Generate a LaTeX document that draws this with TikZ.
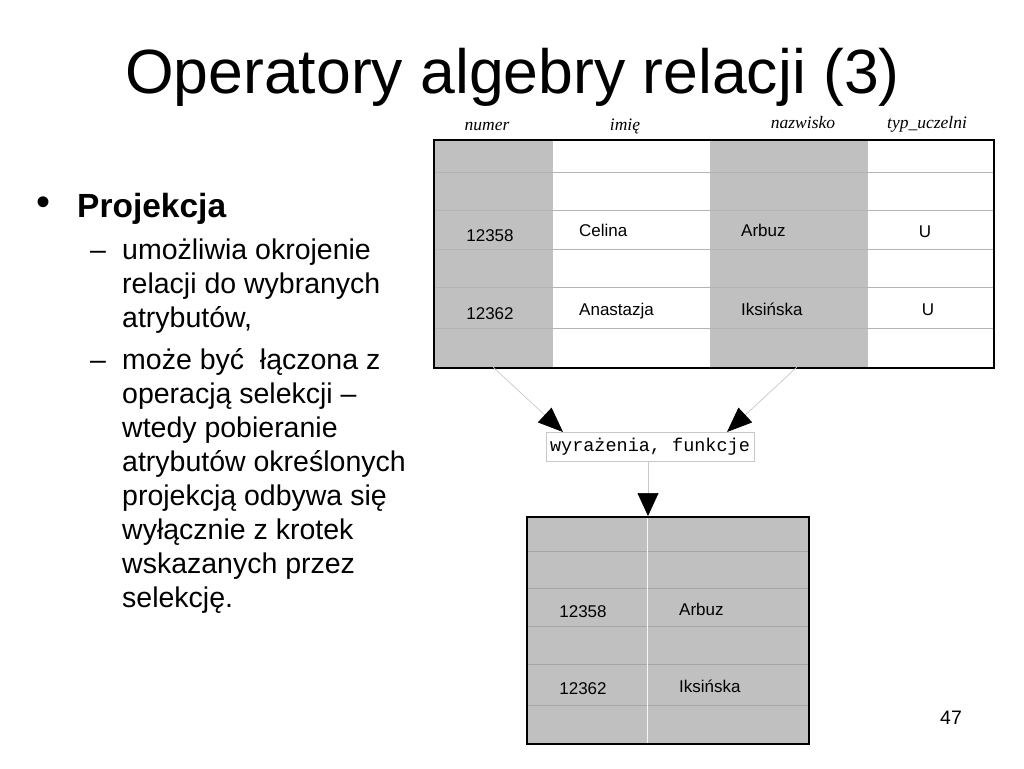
\documentclass[tikz,border=0pt]{standalone}
\usepackage{fontspec}
\setmainfont{Liberation Sans}
\newfontfamily\hdrfont{Liberation Serif}
\newfontfamily\exprfont{Liberation Mono}
\usepackage{tikz}
\usetikzlibrary{arrows.meta}
\usetikzlibrary{positioning}

\definecolor{cellgray}{HTML}{C0C0C0}
\definecolor{rulegray}{HTML}{B4B4B4}
\definecolor{linkgray}{HTML}{C8C8C8}

\begin{document}
\begin{tikzpicture}[x=1pt,y=-1pt,
  frame/.style={draw=black,line width=1.5pt},
  rowline/.style={rulegray,line width=0.8pt},
  hdr/.style={font=\hdrfont\itshape\fontsize{17.5}{20}\selectfont,anchor=base,inner sep=0pt},
  cell/.style={font=\fontsize{17}{20}\selectfont,anchor=base west,inner sep=0pt},
  item/.style={font=\fontsize{28.5}{34}\selectfont,anchor=base west,inner sep=0pt},
  link/.style={linkgray,line width=0.7pt,-{Triangle[length=25pt,width=20pt,color=black]}}]
  \useasboundingbox (0,0) rectangle (1024,768);
  \fill[white] (0,0) rectangle (1024,768);

  % title and bullet text
  \node[anchor=base west,inner sep=0pt,font=\fontsize{62.5}{70}\selectfont] (title) at (125,93) {Operatory algebry relacji (3)};
  \node[inner sep=0pt,font=\fontsize{40}{40}\selectfont] (bullet) at (44,206) {•};
  \node[anchor=base west,inner sep=0pt,font=\bfseries\fontsize{33.5}{40}\selectfont] (head) at (77,217.5) {Projekcja};
  \node[item] (dashA) at (90,259.5) {–};
  \foreach \txt [count=\i] in {{umożliwia okrojenie},{relacji do wybranych},{atrybutów,}}
    \node[item] (lineA-\i) at (122,225.5+34*\i) {\txt};
  \node[item] (dashB) at (90,369) {–};
  \foreach \txt [count=\i] in {{może być\ \ łączona z},{operacją selekcji –},{wtedy pobieranie},
      {atrybutów określonych},{projekcją odbywa się},{wyłącznie z krotek},
      {wskazanych przez},{selekcję.}}
    \node[item] (lineB-\i) at (122,335+34*\i) {\txt};

  % source relation
  \fill[cellgray] (433,139) rectangle (553,367);
  \fill[cellgray] (710,139) rectangle (868,367);
  \foreach \y in {172,210,249,287,328}
    \draw[rowline] (433,\y) -- (993,\y);
  \node[frame,anchor=north west,minimum width=560pt,minimum height=228pt,inner sep=0pt] (source) at (433,139) {};
  \node[hdr] (hNumer) at (487,130) {numer};
  \node[hdr] (hImie) at (625,130) {imię};
  \node[hdr] (hNazwisko) at (803,128.5) {nazwisko};
  \node[hdr] (hTyp) at (927,128.5) {typ\_uczelni};
  \node[cell,anchor=base] (sNum1) at (490,241) {12358};
  \node[cell] (sImie1) at (579,236) {Celina};
  \node[cell] (sNazw1) at (741,236.5) {Arbuz};
  \node[cell,anchor=base] (sTyp1) at (925,237) {U};
  \node[cell,anchor=base] (sNum2) at (490,319) {12362};
  \node[cell] (sImie2) at (579,315) {Anastazja};
  \node[cell] (sNazw2) at (741,315) {Iksińska};
  \node[cell,anchor=base] (sTyp2) at (928,315) {U};

  % expression box
  \node[draw=linkgray,line width=0.8pt,minimum width=208pt,minimum height=29pt,inner sep=0pt,
        font=\exprfont\fontsize{18.5}{20}\selectfont] (expr) at (650,446.5) {wyrażenia, funkcje};
  \coordinate (fromL) at (493,367);
  \coordinate (fromR) at (797,367);
  \coordinate (toL) at (563,432);
  \coordinate (toR) at (727,432);
  \draw[link] (fromL) -- (toL);
  \draw[link] (fromR) -- (toR);

  % result relation
  \fill[cellgray] (526,516) rectangle (808,743);
  \foreach \y in {551,588,626,664,705}
    \draw[rowline,draw=black!35] (526,\y) -- (808,\y);
  \draw[white!85!cellgray,line width=0.8pt] (647,516) -- (647,743);
  \node[frame,anchor=north west,minimum width=282pt,minimum height=227pt,inner sep=0pt] (result) at (526,516) {};
  \draw[link,-{Triangle[length=23pt,width=21pt,color=black]}] (expr.south -| 648,0) -- (result.north -| 648,0);
  \node[cell,anchor=base] (rNum1) at (583,617) {12358};
  \node[cell] (rNazw1) at (679,615) {Arbuz};
  \node[cell,anchor=base] (rNum2) at (583,694) {12362};
  \node[cell] (rNazw2) at (679,692.5) {Iksińska};

  \node[anchor=base,inner sep=0pt,font=\fontsize{19.5}{22}\selectfont] (page) at (951,724) {47};
\end{tikzpicture}
\end{document}
